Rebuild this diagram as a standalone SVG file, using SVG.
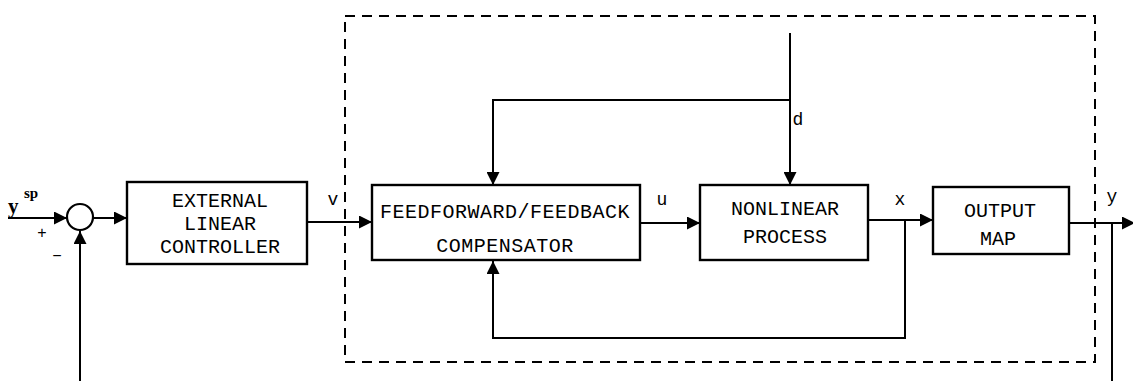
<svg xmlns="http://www.w3.org/2000/svg" width="1133" height="381" viewBox="0 0 1133 381">
<style>
.box{fill:#fff;stroke:#000;stroke-width:2.4}
.ln{fill:none;stroke:#000;stroke-width:2}
.t{font-family:"Liberation Mono","Courier New",monospace;font-size:20px;fill:#000;text-anchor:middle}
.lb{font-family:"Liberation Mono","Courier New",monospace;font-size:18px;fill:#000}
.dash{fill:none;stroke:#000;stroke-width:2;stroke-dasharray:10 7}
</style>
<defs>
<marker id="ah" viewBox="0 0 13 13" refX="13" refY="6.5" markerWidth="13" markerHeight="13" markerUnits="userSpaceOnUse" orient="auto">
<path d="M0,0 L13,6.5 L0,13 Z" fill="#000"/>
</marker>
</defs>
<rect width="1133" height="381" fill="#fff"/>
<g id="boundary">
<rect class="dash" x="345" y="16" width="750" height="346"/>
</g>
<g id="connectors">
<path class="ln" d="M8,218 H67" marker-end="url(#ah)"/>
<path class="ln" d="M93,218 H127" marker-end="url(#ah)"/>
<path class="ln" d="M80,381 V231" marker-end="url(#ah)"/>
<path class="ln" d="M307,222 H372" marker-end="url(#ah)"/>
<path class="ln" d="M640,223 H700" marker-end="url(#ah)"/>
<path class="ln" d="M868,220 H933" marker-end="url(#ah)"/>
<path class="ln" d="M905,220 V338 H493 V261" marker-end="url(#ah)"/>
<path class="ln" d="M790,33 V185" marker-end="url(#ah)"/>
<path class="ln" d="M790,100 H493 V185" marker-end="url(#ah)"/>
<path class="ln" d="M1069,223 H1135" marker-end="url(#ah)"/>
<path class="ln" d="M1112,223 V381"/>
</g>
<g id="sum">
<circle cx="80" cy="217" r="13" fill="#fff" stroke="#000" stroke-width="2.2"/>
<text x="8" y="213" font-family="Liberation Serif,serif" font-size="21" font-weight="bold">y</text>
<text x="24" y="198" font-family="Liberation Serif,serif" font-size="15" font-weight="bold">sp</text>
<text x="42" y="238" font-family="Liberation Sans,sans-serif" font-size="16" fill="#000" text-anchor="middle">+</text>
<text x="57" y="261" font-family="Liberation Sans,sans-serif" font-size="16" fill="#000" text-anchor="middle">−</text>
</g>
<g id="controller">
<rect class="box" x="127" y="182" width="180" height="82"/>
<text class="t" x="220" y="207">EXTERNAL</text>
<text class="t" x="220" y="230">LINEAR</text>
<text class="t" x="220" y="253">CONTROLLER</text>
</g>
<g id="compensator">
<rect class="box" x="372" y="185" width="268" height="75"/>
<text class="t" x="505" y="218" letter-spacing="0.5">FEEDFORWARD/FEEDBACK</text>
<text class="t" x="505" y="252" letter-spacing="0.5">COMPENSATOR</text>
</g>
<g id="process">
<rect class="box" x="700" y="185" width="168" height="75"/>
<text class="t" x="785" y="215">NONLINEAR</text>
<text class="t" x="785" y="243">PROCESS</text>
</g>
<g id="outputmap">
<rect class="box" x="933" y="187" width="136" height="67"/>
<text class="t" x="1000" y="217">OUTPUT</text>
<text class="t" x="998" y="245">MAP</text>
</g>
<g id="labels">
<text class="lb" x="333" y="205" text-anchor="middle">v</text>
<text class="lb" x="662" y="205" text-anchor="middle">u</text>
<text class="lb" x="900" y="205" text-anchor="middle">x</text>
<text class="lb" x="1112" y="202" text-anchor="middle">y</text>
<text class="lb" x="798" y="125" text-anchor="middle">d</text>
</g>
</svg>
